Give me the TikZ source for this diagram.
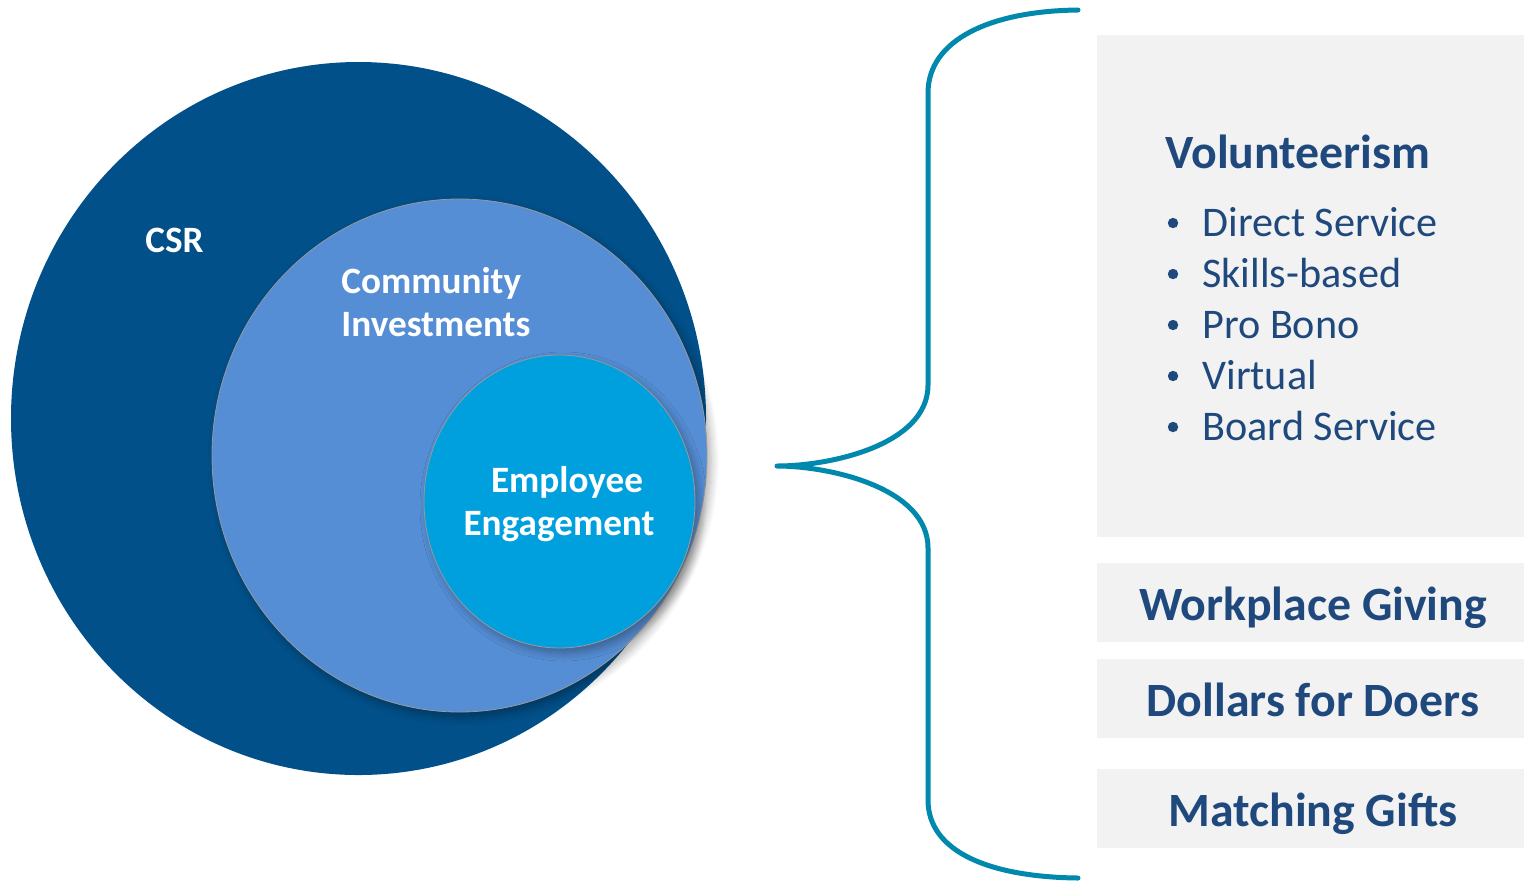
\documentclass[tikz,border=0pt]{standalone}
\usepackage{fontspec}
\setmainfont{Carlito}
\usetikzlibrary{shapes.geometric,shadows.blur}
\definecolor{csrblue}{HTML}{02508A}
\definecolor{comblue}{HTML}{558ED5}
\definecolor{empblue}{HTML}{00A0DE}
\definecolor{bracecol}{HTML}{0088AD}
\definecolor{boxgray}{HTML}{F2F2F2}
\definecolor{txtblue}{HTML}{1F497D}
\tikzset{
  circ/.style={ellipse, inner sep=0pt},
  circshadow/.style={blur shadow={shadow xshift=2pt, shadow yshift=-2.5pt, shadow opacity=32, shadow blur steps=8, shadow blur radius=4pt}},
  wlabel/.style={text=white, font=\bfseries\fontsize{18.6}{21.5}\selectfont, inner sep=0pt, anchor=base west},
  graybox/.style={fill=boxgray, draw=none},
  boxtitle/.style={text=txtblue, font=\bfseries\fontsize{23.9}{28}\selectfont, inner sep=0pt, anchor=base},
  item/.style={text=txtblue, font=\fontsize{21.1}{24}\selectfont, inner sep=0pt, anchor=base west},
  bracestyle/.style={draw=bracecol, line width=2.5pt, line cap=round, line join=round}
}
\begin{document}
\begin{tikzpicture}[x=0.5pt, y=-0.5pt]
\useasboundingbox (0,0) rectangle (1524,880);
% circles
\node[circ, fill=csrblue, minimum width=347.5pt, minimum height=356.5pt] (csr) at (358.5,418.5) {};
\node[circ, fill=comblue, draw=gray!80, line width=0.4pt, circshadow, minimum width=247.5pt, minimum height=256.5pt] (com) at (459.5,455.5) {};
\node[circ, fill=empblue, draw=gray!80, line width=0.4pt, circshadow, minimum width=135.5pt, minimum height=146.5pt] (emp) at (559.5,501.5) {};
% circle labels
\node[wlabel] (csrt) at (145,252) {CSR};
\node[wlabel] (comt1) at (341,293) {Community};
\node[wlabel] (comt2) at (341,336) {Investments};
\node[wlabel, anchor=base] (empt1) at (567,492) {Employee};
\node[wlabel, anchor=base] (empt2) at (559,535) {Engagement};
% gray boxes
\fill[graybox] (1097,35) rectangle (1524,537);
\fill[graybox] (1097,563) rectangle (1524,642);
\fill[graybox] (1097,659) rectangle (1524,738);
\fill[graybox] (1097,769) rectangle (1524,848);
% volunteerism text
\node[boxtitle, anchor=base west] (vol) at (1165,168) {Volunteerism};
\foreach \t [count=\i] in {Direct Service, Skills-based, Pro Bono, Virtual, Board Service} {
  \node[item] (it\i) at (1202,{236+51*(\i-1)}) {\t};
  \fill[txtblue] (1173,{236+51*(\i-1)-13}) circle (2.6pt);
}
\node[boxtitle] (wg) at (1313,620) {Workplace Giving};
\node[boxtitle] (dd) at (1313,716) {Dollars for Doers};
\node[boxtitle] (mg) at (1313,826) {Matching Gifts};
% brace
\coordinate (btop) at (1078,10);
\coordinate (bbot) at (1078,878);
\coordinate (btip) at (777,466);
\draw[bracestyle] (btop) .. controls (990,11) and (928,40) .. (928,93)
  -- (928,385) .. controls (928,445) and (830,466) .. (btip)
  .. controls (830,466) and (928,488) .. (928,548)
  -- (928,800) .. controls (928,852) and (990,877) .. (bbot);
\end{tikzpicture}
\end{document}
